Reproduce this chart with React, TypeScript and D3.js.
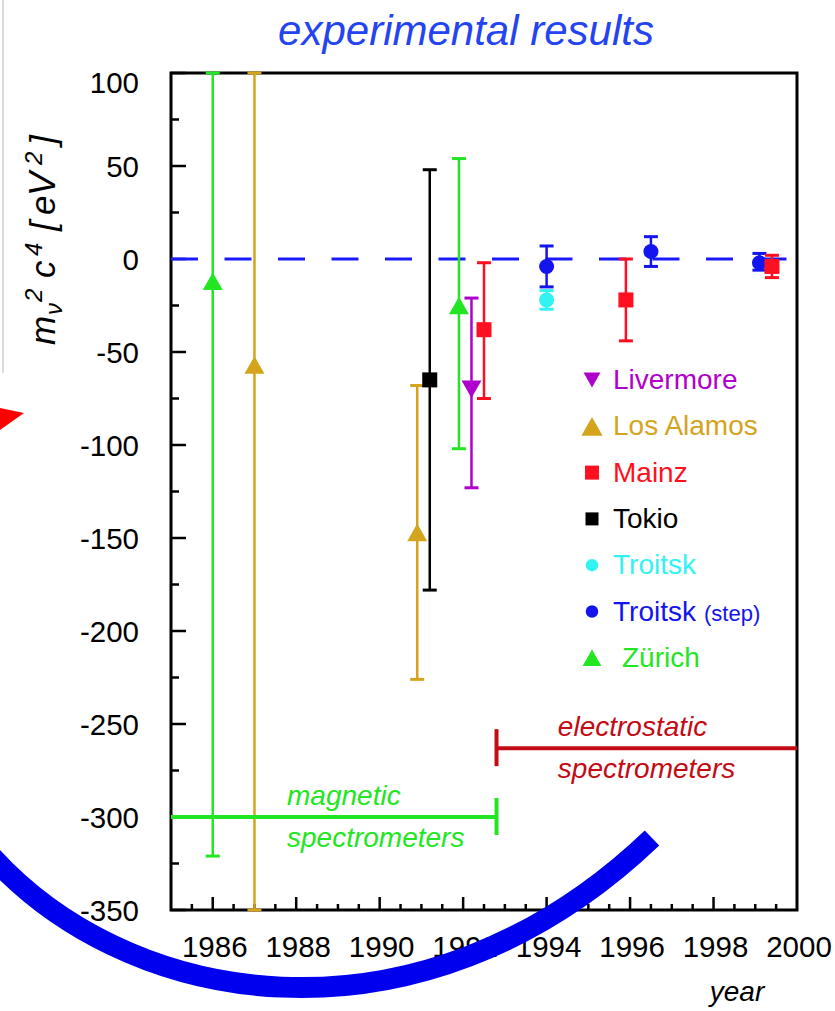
import React from "react";
import * as d3 from "d3";

type Pt = { year: number; value: number; lo: number; hi: number };

// Measured neutrino mass squared (eV^2) with error bar limits, per experiment
const livermore: Pt[] = [{ year: 1992.2, value: -70, lo: -123, hi: -21 }];
const losAlamos: Pt[] = [
  { year: 1987, value: -57, lo: -350, hi: 100 },
  { year: 1990.9, value: -147, lo: -226, hi: -68 },
];
const mainz: Pt[] = [
  { year: 1992.5, value: -38, lo: -75, hi: -2 },
  { year: 1995.9, value: -22, lo: -44, hi: 0 },
  { year: 1999.4, value: -4, lo: -10, hi: 2 },
];
const tokio: Pt[] = [{ year: 1991.2, value: -65, lo: -178, hi: 48 }];
const troitsk: Pt[] = [{ year: 1994, value: -22, lo: -27, hi: -17 }];
const troitskStep: Pt[] = [
  { year: 1994, value: -4, lo: -15, hi: 7 },
  { year: 1996.5, value: 4, lo: -4, hi: 12 },
  { year: 1999.1, value: -2, lo: -6, hi: 3 },
];
const zurich: Pt[] = [
  { year: 1986, value: -12, lo: -321, hi: 100 },
  { year: 1991.9, value: -25, lo: -102, hi: 54 },
];

const xDomain = [1985, 2000];
const yDomain = [-350, 100];
const yTickValues = [100, 50, 0, -50, -100, -150, -200, -250, -300, -350];
const xTickValues = [1986, 1988, 1990, 1992, 1994, 1996, 1998, 2000];

// Spectrometer eras drawn as brackets across the plot
const eras = [
  { lines: ["magnetic", "spectrometers"], from: 1985, to: 1992.8, level: -300, capAt: "to", textYear: 1987.78, color: "#22e622" },
  { lines: ["electrostatic", "spectrometers"], from: 1992.8, to: 2000, level: -263, capAt: "from", textYear: 1994.27, color: "#c40a14" },
];

type Shape = "triUp" | "triDown" | "square" | "circle";
type Series = { label: string; small?: string; indent?: number; color: string; shape: Shape; legendSize: number; data: Pt[] };

const livermoreS: Series = { label: "Livermore", color: "#b000cc", shape: "triDown", legendSize: 13.5, data: livermore };
const losAlamosS: Series = { label: "Los Alamos", color: "#d4a41c", shape: "triUp", legendSize: 17, data: losAlamos };
const mainzS: Series = { label: "Mainz", color: "#ff1020", shape: "square", legendSize: 14, data: mainz };
const tokioS: Series = { label: "Tokio", color: "#000000", shape: "square", legendSize: 13, data: tokio };
const troitskS: Series = { label: "Troitsk", color: "#33f2f2", shape: "circle", legendSize: 12.5, data: troitsk };
const troitskStepS: Series = { label: "Troitsk", small: "(step)", color: "#1414ee", shape: "circle", legendSize: 12.5, data: troitskStep };
const zurichS: Series = { label: "Zürich", indent: 9, color: "#22e622", shape: "triUp", legendSize: 15, data: zurich };

const legendOrder = [livermoreS, losAlamosS, mainzS, tokioS, troitskS, troitskStepS, zurichS];
const drawOrder = [losAlamosS, zurichS, tokioS, livermoreS, troitskS, troitskStepS, mainzS];

const FONT = "'Liberation Sans', Arial, Helvetica, sans-serif";

function marker(shape: Shape, cx: number, cy: number, s: number, color: string) {
  if (shape === "circle") return <circle cx={cx} cy={cy} r={s / 2} fill={color} />;
  if (shape === "square") return <rect x={cx - s / 2} y={cy - s / 2} width={s} height={s} fill={color} />;
  const w = s * 1.25;
  const h = s * 1.1;
  const pts =
    shape === "triUp"
      ? [[cx - w / 2, cy + h / 2], [cx + w / 2, cy + h / 2], [cx, cy - h / 2]]
      : [[cx - w / 2, cy - h / 2], [cx + w / 2, cy - h / 2], [cx, cy + h / 2]];
  return <polygon points={pts.map((p) => p.join(",")).join(" ")} fill={color} />;
}

export default function App() {
  const W = 835;
  const H = 1011;
  const plot = { left: 171, right: 797, top: 73, bottom: 910 };
  const x = d3.scaleLinear().domain(xDomain).range([plot.left, plot.right]);
  const y = d3.scaleLinear().domain(yDomain).range([plot.bottom, plot.top]);

  const yMinor = d3.range(yDomain[0], yDomain[1] + 0.1, 25);
  const xMinor = d3.range(xDomain[0] + 0.5, xDomain[1], 0.5);

  // Hand-drawn style swoosh overlay
  const swoosh = d3.path();
  swoosh.moveTo(-20, 843);
  swoosh.bezierCurveTo(120, 1012, 420, 1060, 652, 838);

  return (
    <svg
      width={W}
      height={H}
      style={{ position: "absolute", left: 0, top: 0, background: "#fff" }}
      fontFamily={FONT}
    >
      <rect width={W} height={H} fill="#fff" />
      <line x1={3} y1={0} x2={3} y2={373} stroke="#dcdcdc" strokeWidth={2} />

      {/* title */}
      <text x={466} y={45} textAnchor="middle" fontSize={42} fontStyle="italic" fill="#2444f2">
        experimental results
      </text>

      {/* y axis title */}
      <g transform="translate(55,345) rotate(-90)">
        <text fontSize={35} fontStyle="italic" fill="#000">
          <tspan x={0} y={0}>m</tspan>
          <tspan x={30} y={7} fontSize={24}>ν</tspan>
          <tspan x={43} y={-13} fontSize={24}>2</tspan>
          <tspan x={67} y={0}>c</tspan>
          <tspan x={89} y={-13} fontSize={24}>4</tspan>
          <tspan x={114} y={0}>[</tspan>
          <tspan x={130} y={0}>e</tspan>
          <tspan x={149} fontSize={36} y={0}>V</tspan>
          <tspan x={180} y={-13} fontSize={24}>2</tspan>
          <tspan x={200} y={0}>]</tspan>
        </text>
      </g>

      {/* ticks */}
      {yMinor.map((v) => {
        const major = v % 50 === 0;
        return (
          <line key={"yt" + v} x1={plot.left} x2={plot.left + (major ? 15 : 8)} y1={y(v)} y2={y(v)} stroke="#000" strokeWidth={2.5} />
        );
      })}
      {xMinor.map((v) => {
        const major = v % 2 === 0;
        return (
          <line key={"xt" + v} x1={x(v)} x2={x(v)} y1={plot.bottom} y2={plot.bottom - (major ? 13 : 6)} stroke="#000" strokeWidth={2.5} />
        );
      })}
      {yTickValues.map((v) => (
        <text
          key={"yl" + v}
          x={139}
          y={y(v) + (v === yDomain[1] ? 9 : 0)}
          dy="0.36em"
          textAnchor="end"
          fontSize={29.5}
          fill="#000"
        >
          {v}
        </text>
      ))}
      {xTickValues.map((v) => (
        <text key={"xl" + v} x={x(v) + 2} y={957} textAnchor="middle" fontSize={29.5} fill="#000">
          {v}
        </text>
      ))}
      <text x={737} y={1001} textAnchor="middle" fontSize={28} fontStyle="italic" fill="#000">
        year
      </text>

      {/* frame */}
      <rect
        x={plot.left}
        y={plot.top}
        width={plot.right - plot.left}
        height={plot.bottom - plot.top}
        fill="none"
        stroke="#000"
        strokeWidth={3}
      />

      {/* zero line */}
      <line
        x1={plot.left}
        x2={plot.right - 6}
        y1={y(0)}
        y2={y(0)}
        stroke="#1a1aff"
        strokeWidth={3}
        strokeDasharray="27 26.5"
      />

      {/* data with error bars */}
      {drawOrder.map((s, si) =>
        s.data.map((d, i) => {
          const cx = x(d.year);
          return (
            <g key={`d${si}-${i}`}>
              <line x1={cx} x2={cx} y1={y(d.hi)} y2={y(d.lo)} stroke={s.color} strokeWidth={2.5} />
              <line x1={cx - 7} x2={cx + 7} y1={y(d.hi)} y2={y(d.hi)} stroke={s.color} strokeWidth={3} />
              <line x1={cx - 7} x2={cx + 7} y1={y(d.lo)} y2={y(d.lo)} stroke={s.color} strokeWidth={3} />
              {marker(s.shape, cx, y(d.value), s.shape === "circle" ? 15 : s.shape === "square" ? 15 : 16, s.color)}
            </g>
          );
        })
      )}

      {/* legend */}
      {legendOrder.map((s, i) => {
        const cy = 380 + i * 46.3;
        return (
          <g key={"lg" + i}>
            {marker(s.shape, 592, cy, s.legendSize, s.color)}
            <text x={613 + (s.indent ?? 0)} y={cy + 9} fontSize={28} fill={s.color}>
              {s.label}
              {s.small ? <tspan fontSize={22} dx={8}>{s.small}</tspan> : null}
            </text>
          </g>
        );
      })}

      {/* spectrometer eras */}
      {eras.map((e, i) => {
        const ly = y(e.level);
        const capX = x(e.capAt === "to" ? e.to : e.from);
        return (
          <g key={"era" + i}>
            <line x1={x(e.from)} x2={x(e.to)} y1={ly} y2={ly} stroke={e.color} strokeWidth={4} />
            <line x1={capX} x2={capX} y1={ly - 19} y2={ly + 18} stroke={e.color} strokeWidth={4} />
            <text x={x(e.textYear)} y={ly - 12} fontSize={28} fontStyle="italic" fill={e.color}>
              {e.lines[0]}
            </text>
            <text x={x(e.textYear)} y={ly + 30} fontSize={28} fontStyle="italic" fill={e.color}>
              {e.lines[1]}
            </text>
          </g>
        );
      })}

      {/* overlays */}
      <polygon points="-20,404 24,413 -20,444" fill="#ff0000" />
      <path d={swoosh.toString()} fill="none" stroke="#0000ee" strokeWidth={21} strokeLinecap="butt" />
    </svg>
  );
}
